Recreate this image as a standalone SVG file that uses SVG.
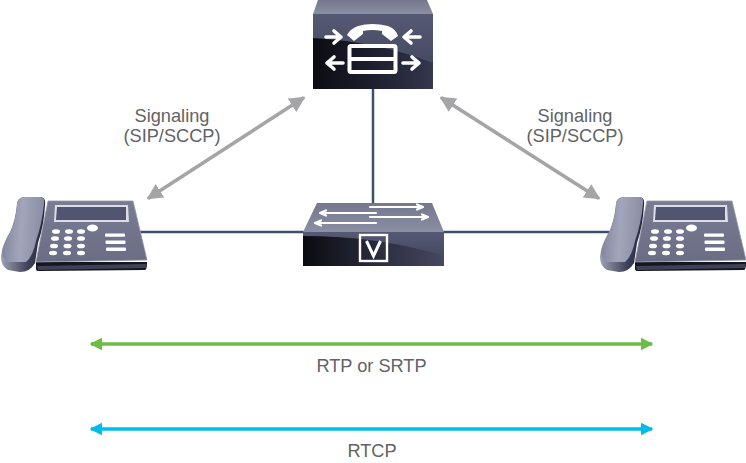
<svg xmlns="http://www.w3.org/2000/svg" width="746" height="463" viewBox="0 0 746 463">
<style>
text{font-family:"Liberation Sans",Arial,sans-serif;font-size:18.200px;fill:#626366;text-anchor:middle}
.link{stroke:#3e5068;stroke-width:2.500;fill:none}
.gray{stroke:#a5a5a8;stroke-width:3.600;fill:none}
.ic{stroke:#fff;fill:none;stroke-width:3.600;stroke-linecap:round;stroke-linejoin:round}
.thin{stroke:#fff;fill:none;stroke-width:2.200;stroke-linecap:round;stroke-linejoin:round}
.key{fill:#fff}
</style>
<defs>
<marker id="g" viewBox="0 0 10 10" refX="9" refY="5" markerWidth="4.400" markerHeight="4.400" orient="auto-start-reverse" markerUnits="strokeWidth"><path d="M0 0L10 5L0 10Z" fill="#a5a5a8"/></marker>
<marker id="gr" viewBox="0 0 10 10" refX="9" refY="5" markerWidth="3.600" markerHeight="3.800" orient="auto-start-reverse" markerUnits="strokeWidth"><path d="M0 0L10 5L0 10Z" fill="#6cbd45"/></marker>
<marker id="bl" viewBox="0 0 10 10" refX="9" refY="5" markerWidth="3.600" markerHeight="3.800" orient="auto-start-reverse" markerUnits="strokeWidth"><path d="M0 0L10 5L0 10Z" fill="#00bceb"/></marker>
<linearGradient id="hs" x1="0" y1="0" x2="1" y2="0.1"><stop offset="0" stop-color="#7d8199"/><stop offset="0.5" stop-color="#a3a6bb"/><stop offset="1" stop-color="#8a8da3"/></linearGradient>
<linearGradient id="hb" x1="0" y1="0" x2="1" y2="0"><stop offset="0" stop-color="#9fa2b5"/><stop offset="0.6" stop-color="#3f425a"/><stop offset="1" stop-color="#23253a"/></linearGradient>
<linearGradient id="top" x1="0" y1="0" x2="0" y2="1"><stop offset="0" stop-color="#74778e"/><stop offset="1" stop-color="#8b8fa3"/></linearGradient>
<linearGradient id="ptop" x1="0" y1="0" x2="0" y2="1"><stop offset="0" stop-color="#797c92"/><stop offset="1" stop-color="#6a6d84"/></linearGradient>
<linearGradient id="front" x1="0" y1="0" x2="0" y2="1"><stop offset="0" stop-color="#565973"/><stop offset="1" stop-color="#3f425a"/></linearGradient>
<linearGradient id="gloss" x1="0" y1="0" x2="1" y2="0"><stop offset="0" stop-color="#0b0c12"/><stop offset="0.7" stop-color="#25273a"/><stop offset="1" stop-color="#35384e"/></linearGradient>
<linearGradient id="sf" x1="0" y1="0" x2="1" y2="0"><stop offset="0" stop-color="#0a0b10"/><stop offset="0.6" stop-color="#2e3044"/><stop offset="1" stop-color="#45485f"/></linearGradient>
<g id="phone">
<path d="M36 262L36 269Q36 271 39 271L145 270Q147 270 147 262Z" fill="#15161f"/>
<path d="M37 266L146 264L146 268L38 270Z" fill="#4a4d64" opacity=".8"/>
<path d="M48 201L133 201L147 260L36 262Z" fill="url(#ptop)" stroke="#9396aa" stroke-width=".8"/>
<path d="M55 205H128L129 222H54Z" fill="#dcdde5"/>
<path d="M57 207H126V220H56Z" fill="#52556f"/>
<path d="M17 205Q17 198 24 197L41 197Q46 198 45 205Q44 225 38 243L35 263Q30 272 20 272L8 270Q1 266 1 257Q2 245 10 232Q15 222 17 205Z" fill="url(#hb)"/>
<path d="M17 204Q17 198 24 197L41 197Q45 198 44 204Q42 224 36 241Q33 256 26 262L8 262Q2 258 2 252Q3 244 11 231Q16 220 17 204Z" fill="url(#hs)"/>
<g class="key">
<ellipse cx="92.500" cy="228" rx="5.500" ry="3.500"/>
<ellipse cx="56" cy="231.500" rx="4" ry="2.300"/><ellipse cx="69" cy="231.500" rx="4" ry="2.300"/><ellipse cx="81" cy="231.500" rx="4" ry="2.300"/>
<ellipse cx="55" cy="238.500" rx="4" ry="2.300"/><ellipse cx="68" cy="238.500" rx="4" ry="2.300"/><ellipse cx="81" cy="238.500" rx="4" ry="2.300"/>
<ellipse cx="54" cy="246" rx="4" ry="2.300"/><ellipse cx="67.500" cy="246" rx="4" ry="2.300"/><ellipse cx="81" cy="246" rx="4" ry="2.300"/>
<ellipse cx="53" cy="253" rx="4" ry="2.300"/><ellipse cx="67" cy="253" rx="4" ry="2.300"/><ellipse cx="81" cy="253" rx="4" ry="2.300"/>
<rect x="105" y="233.500" width="20" height="3.200" rx="1"/><rect x="105.500" y="240.500" width="20" height="3.500" rx="1"/><rect x="106" y="247.500" width="20" height="3.500" rx="1"/>
</g>
</g>
</defs>

<g id="connectors">
<path class="link" d="M373 89V204"/>
<path class="link" d="M138 232H304"/>
<path class="link" d="M443 232H609"/>
<path class="gray" d="M148 198.500L304 97.500" marker-start="url(#g)" marker-end="url(#g)"/>
<path class="gray" d="M441 97.500L599 198.500" marker-start="url(#g)" marker-end="url(#g)"/>
<path d="M91 344H652" stroke="#6cbd45" stroke-width="3.500" fill="none" marker-start="url(#gr)" marker-end="url(#gr)"/>
<path d="M91 429H652" stroke="#00bceb" stroke-width="3.500" fill="none" marker-start="url(#bl)" marker-end="url(#bl)"/>
</g>

<g id="call-manager">
<path d="M318 0H427L433 14H313Z" fill="url(#top)"/>
<rect x="313" y="14" width="120" height="75" fill="url(#front)"/>
<path d="M313 38Q380 42 433 63V89H313Z" fill="url(#gloss)"/>
<path d="M326 37H340M334 31L341 37L334 43" class="ic"/>
<path d="M420 37H405M411 31L404 37L411 43" class="ic"/>
<path d="M343 63H328M334 57L327 63L334 69" class="ic"/>
<path d="M403 63H418M412 57L419 63L412 69" class="ic"/>
<rect x="349.500" y="46" width="46" height="26" rx="1.500" fill="none" stroke="#fff" stroke-width="4"/>
<path d="M349 59H396" stroke="#fff" stroke-width="4"/>
<path d="M347 35Q350 29 358 26Q372 22 388 26Q396 29 398 36L391 41L382 34L382 31Q372 29 363 31L363 34L354 41Z" fill="#fff"/>
</g>

<g id="switch">
<path d="M317 203H432L444 232H303Z" fill="url(#top)"/>
<rect x="303" y="232" width="141" height="34" rx="1.500" fill="url(#front)"/>
<path d="M303 236Q380 236 444 256V266H303Z" fill="url(#sf)"/>
<path d="M370 207H422M417 204.500L423 207L417 209.500" class="thin"/>
<path d="M370 217H427M422 214.500L428 217L422 219.500" class="thin"/>
<path d="M376 213H321M326 210.500L320 213L326 215.500" class="thin"/>
<path d="M376 223H316M321 220.500L315 223L321 225.500" class="thin"/>
<rect x="360" y="235" width="27" height="26" fill="none" stroke="#fff" stroke-width="2.400"/>
<path d="M366.500 241L373.500 256L380.500 241" fill="none" stroke="#fff" stroke-width="3"/>
</g>

<g id="phone-left"><use href="#phone"/></g>
<g id="phone-right"><use href="#phone" x="599"/></g>

<g id="labels">
<text x="172" y="122">Signaling</text>
<text x="172" y="142">(SIP/SCCP)</text>
<text x="575" y="122">Signaling</text>
<text x="575" y="142">(SIP/SCCP)</text>
<text x="371.500" y="372">RTP or SRTP</text>
<text x="372" y="457">RTCP</text>
</g>
</svg>
